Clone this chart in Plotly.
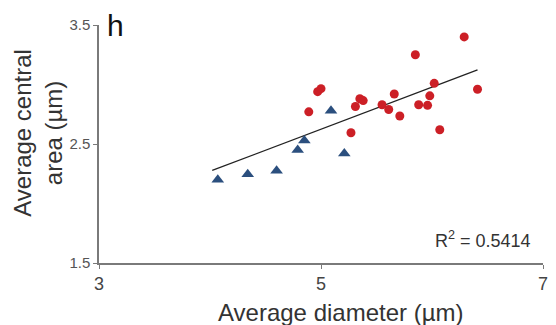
import numpy as np
import plotly.graph_objects as go

# Data
tri_x = [4.07, 4.34, 4.60, 4.79, 4.85, 5.09, 5.21]
tri_y = [2.20, 2.245, 2.275, 2.45, 2.53, 2.78, 2.42]

circ_x = [4.89, 4.97, 5.00, 5.27, 5.31, 5.35, 5.38, 5.55, 5.61, 5.66, 5.71,
          5.85, 5.88, 5.96, 5.98, 6.02, 6.07, 6.29, 6.41]
circ_y = [2.77, 2.94, 2.965, 2.595, 2.815, 2.88, 2.865, 2.83, 2.79, 2.92, 2.735,
          3.25, 2.83, 2.825, 2.905, 3.01, 2.62, 3.40, 2.96]

x_ticks = [3, 5, 7]
y_ticks = [1.5, 2.5, 3.5]
r2_text = "R<sup>2</sup> = 0.5414"

all_x = np.array(tri_x + circ_x)
all_y = np.array(tri_y + circ_y)
slope, intercept = np.polyfit(all_x, all_y, 1)
fit_x = np.array([all_x.min() - 0.05, all_x.max()])
fit_y = slope * fit_x + intercept

FONT = "Liberation Sans, Arial, sans-serif"
AXC = "#7a7a7a"

fig = go.Figure()
fig.add_trace(go.Scatter(x=fit_x, y=fit_y, mode="lines",
                         line=dict(color="#222222", width=1.3), showlegend=False))
fig.add_trace(go.Scatter(x=circ_x, y=circ_y, mode="markers",
                         marker=dict(symbol="circle", size=9, color="#cc1f26"),
                         showlegend=False))
fig.add_trace(go.Scatter(x=tri_x, y=tri_y, mode="markers",
                         marker=dict(symbol="triangle-up", size=11, color="#2b4f7e"),
                         showlegend=False))

fig.update_layout(
    width=556, height=325,
    margin=dict(l=99, r=8, t=25, b=62),
    plot_bgcolor="white", paper_bgcolor="white",
    font=dict(family=FONT, color="#444444"),
    xaxis=dict(range=[3, 7], tickvals=x_ticks, ticktext=[str(v) for v in x_ticks],
               showgrid=False, zeroline=False, showline=True, linecolor=AXC, linewidth=1.5,
               ticks="outside", ticklen=4, tickcolor=AXC, tickwidth=1,
               tickfont=dict(size=18, color="#444444")),
    yaxis=dict(range=[1.5, 3.5], tickvals=y_ticks, ticktext=[str(v) for v in y_ticks],
               showgrid=False, zeroline=False, showline=True, linecolor=AXC, linewidth=1.5,
               ticks="outside", ticklen=4, tickcolor=AXC, tickwidth=1,
               tickfont=dict(size=15, color="#555555")),
    annotations=[
        dict(text="h", xref="paper", yref="paper", x=0.038, y=1.0, xanchor="center",
             yanchor="middle", showarrow=False, font=dict(size=30, color="#111111")),
        dict(text=r2_text, xref="paper", yref="paper", x=0.978, y=0.097, xanchor="right",
             yanchor="middle", showarrow=False, font=dict(size=18, color="#333333")),
        dict(text="Average diameter (µm)", xref="paper", yref="paper", x=0.545, y=-0.206,
             xanchor="center", yanchor="middle", showarrow=False,
             font=dict(size=24, color="#333333")),
        dict(text="Average central<br>area (µm)", xref="paper", yref="paper", x=-0.138,
             y=0.546, xanchor="center", yanchor="middle", textangle=-90, showarrow=False,
             font=dict(size=24, color="#333333")),
    ],
)

fig.write_html("out.html")
